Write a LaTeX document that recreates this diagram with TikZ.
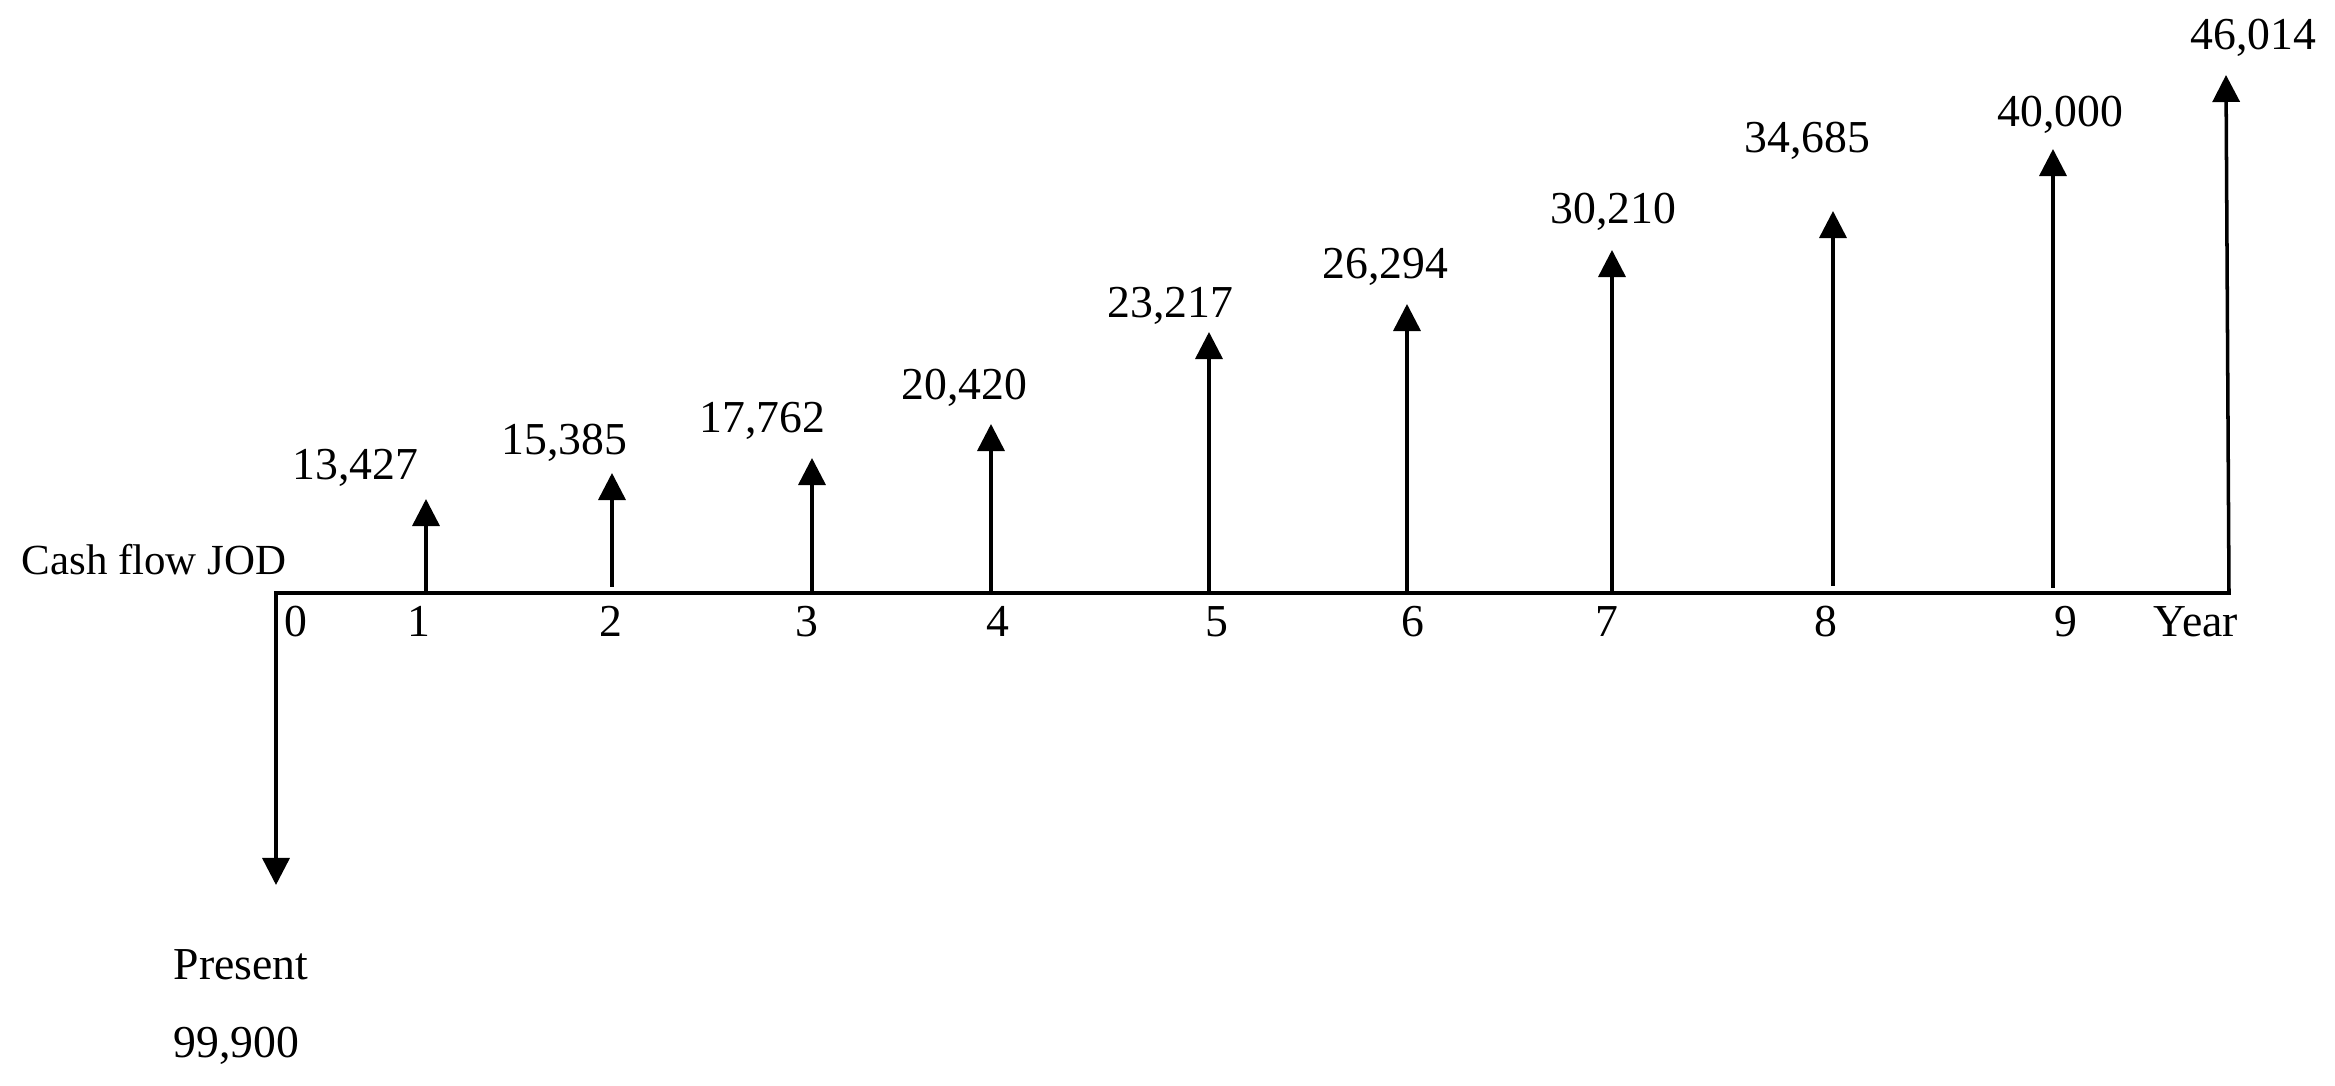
\documentclass[tikz,border=0pt]{standalone}
\usepackage{fontspec}
\setmainfont{Liberation Serif}
\usetikzlibrary{arrows.meta}
\begin{document}
\begin{tikzpicture}[x=0.01cm,y=-0.01cm,
  line width=1pt,
  flow/.style={-{Triangle[width=0.27cm,length=0.27cm]}},
  axisline/.style={line cap=rect},
  lbl/.style={inner sep=0pt,font=\fontsize{13}{15}\selectfont},
  val/.style={lbl,anchor=base west},
  tick/.style={lbl,anchor=base}]
\useasboundingbox (0,0) rectangle (2335,1086);
% axis
\coordinate (o) at (276,593);
\coordinate (e) at (2229,593);
\coordinate (down) at (276,885);
\draw[axisline] (o) -- (e);
\draw[flow] (o) -- (down);
% arrow bases and tips
\coordinate (b1) at (426,593);  \coordinate (t1) at (426,499);
\coordinate (b2) at (612,587);  \coordinate (t2) at (612,473);
\coordinate (b3) at (812,593);  \coordinate (t3) at (812,458);
\coordinate (b4) at (991,593);  \coordinate (t4) at (991,424);
\coordinate (b5) at (1209,593); \coordinate (t5) at (1209,332);
\coordinate (b6) at (1407,593); \coordinate (t6) at (1407,304);
\coordinate (b7) at (1612,593); \coordinate (t7) at (1612,250);
\coordinate (b8) at (1833,586); \coordinate (t8) at (1833,211);
\coordinate (b9) at (2053,588); \coordinate (t9) at (2053,149);
\coordinate (t10) at (2226,75);
\foreach \i in {1,...,9} \draw[flow] (b\i) -- (t\i);
\draw[flow] (e) -- (t10);
% values
\node[val] (v1) at (291,480) {13,427};
\node[val] (v2) at (500,455) {15,385};
\node[val] (v3) at (698,433) {17,762};
\node[val] (v4) at (900,400) {20,420};
\node[val] (v5) at (1106,318) {23,217};
\node[val] (v6) at (1321,279) {26,294};
\node[val] (v7) at (1549,224) {30,210};
\node[val] (v8) at (1743,153) {34,685};
\node[val] (v9) at (1996,127) {40,000};
\node[val] (v10) at (2189,50) {46,014};
% tick labels
\node[tick] (n0) at (296,637) {0};
\node[tick] (n1) at (419,637) {1};
\node[tick] (n2) at (611,637) {2};
\node[tick] (n3) at (807,637) {3};
\node[tick] (n4) at (998,637) {4};
\node[tick] (n5) at (1217,637) {5};
\node[tick] (n6) at (1413,637) {6};
\node[tick] (n7) at (1607,637) {7};
\node[tick] (n8) at (1826,637) {8};
\node[tick] (n9) at (2066,637) {9};
\node[val] (year) at (2152,637) {Year};
% other labels
\node[inner sep=0pt,font=\fontsize{12.2}{14}\selectfont,anchor=base east] (cf) at (288,575) {Cash flow JOD};
\node[val] (pres) at (172,980) {Present};
\node[val] (pv) at (172,1058) {99,900};
\end{tikzpicture}
\end{document}
